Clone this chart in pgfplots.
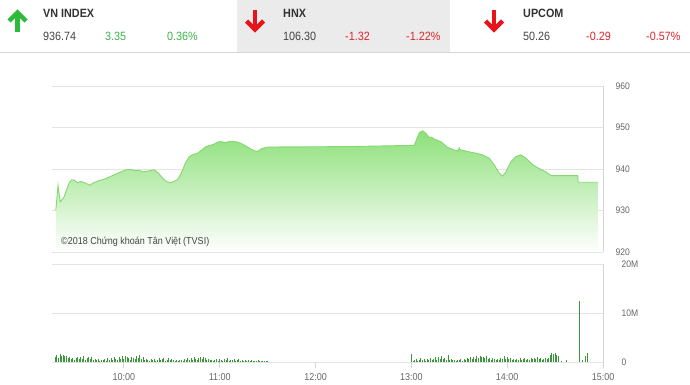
\documentclass[border=0pt]{standalone}
\usepackage{fontspec}
\setmainfont{Liberation Sans}[FakeStretch=0.9]
\usepackage{pgfplots}
\pgfplotsset{compat=1.18}
\usetikzlibrary{arrows.meta}

\definecolor{gridc}{HTML}{E4E4E4}
\definecolor{framec}{HTML}{D6D6D6}
\definecolor{areaTop}{HTML}{8DE07A}
\definecolor{lineC}{HTML}{84D870}
\definecolor{barC}{HTML}{3A983A}
\definecolor{upG}{HTML}{2DBA3A}
\definecolor{txtG}{HTML}{3BB44A}
\definecolor{dnR}{HTML}{E8141B}
\definecolor{txtR}{HTML}{E0262B}
\definecolor{hdrGray}{HTML}{EBEBEB}
\definecolor{hdrT}{HTML}{333333}
\definecolor{numT}{HTML}{444444}
\definecolor{tickT}{HTML}{666666}

\pgfplotstableread{
x y
17.4 920
17.4 930.1
18.8 936.1
20.1 932.1
21.2 932.6
22.6 933.3
24.0 934.8
25.7 936.6
27.3 937.4
28.9 937.3
31.0 936.7
33.0 937.0
35.2 936.7
37.0 936.4
38.9 936.1
40.6 936.6
42.5 936.9
45.0 937.3
47.6 937.5
50.5 938.0
53.9 938.6
57.5 939.2
61.3 939.8
64.0 939.9
67.5 939.6
69.5 939.7
71.7 939.3
75.0 939.5
79.0 939.8
82.0 938.9
84.2 937.8
86.6 937.0
89.0 936.7
91.5 937.0
93.7 937.5
95.5 938.7
96.8 939.8
98.5 941.4
100.9 943.0
103.5 943.5
106.1 943.8
108.8 944.6
111.4 945.4
114.0 945.7
116.6 946.0
118.7 946.5
120.8 946.6
123.5 946.4
127.0 946.7
131.0 946.5
134.3 946.0
137.0 945.4
139.6 944.8
141.7 944.4
143.8 944.2
145.8 944.8
147.9 945.1
150.0 945.3
200.0 945.4
241.8 945.7
244.9 948.7
247.0 949.2
249.1 948.6
251.2 947.6
252.5 947.7
254.3 947.2
258.5 946.6
262.7 945.2
266.9 944.6
269.0 944.3
270.0 945.1
270.6 944.5
271.1 944.6
275.3 944.2
280.4 943.8
284.6 943.4
288.8 942.6
291.9 941.0
295.0 939.0
297.2 938.3
299.2 939.3
302.4 941.8
305.5 943.0
308.6 943.4
311.8 942.6
316.0 941.0
319.6 940.2
324.3 939.3
327.4 938.4
344.2 938.4
344.4 936.8
356.9 936.8
356.9 920
}\indexdata

\begin{document}
\begin{tikzpicture}[x=1pt,y=1pt]
\path[use as bounding box] (0,0) rectangle (690,384);
% header
\fill[hdrGray] (237,332) rectangle (450,384);
\draw[framec, line width=0.6pt] (0,331.7) -- (690,331.7);
% arrows
\draw[upG, line width=4.5pt] (17.5,352) -- (17.5,371);
\draw[upG, line width=4.5pt, line join=miter] (9,363) -- (17.5,371.5) -- (26,363);
\draw[dnR, line width=4.5pt] (255,374) -- (255,355);
\draw[dnR, line width=4.5pt, line join=miter] (246.5,363) -- (255,354.5) -- (263.5,363);
\draw[dnR, line width=4.5pt] (494,374) -- (494,355);
\draw[dnR, line width=4.5pt, line join=miter] (485.5,363) -- (494,354.5) -- (502.5,363);
% header texts
\begin{scope}[every node/.style={anchor=west, inner sep=0pt, font=\fontsize{12}{12}\selectfont}]
\node[text=hdrT, font=\bfseries\fontsize{12}{12}\selectfont] at (43,371) {VN INDEX};
\node[text=numT] at (43,348) {936.74};
\node[text=txtG] at (105,348) {3.35};
\node[text=txtG] at (167,348) {0.36\%};
\node[text=hdrT, font=\bfseries\fontsize{12}{12}\selectfont] at (283,371) {HNX};
\node[text=numT] at (283,348) {106.30};
\node[text=txtR] at (345,348) {-1.32};
\node[text=txtR] at (406,348) {-1.22\%};
\node[text=hdrT, font=\bfseries\fontsize{12}{12}\selectfont] at (523,371) {UPCOM};
\node[text=numT] at (523,348) {50.26};
\node[text=txtR] at (586,348) {-0.29};
\node[text=txtR] at (646,348) {-0.57\%};
\end{scope}

% main index chart
\begin{axis}[at={(52pt,132pt)}, anchor=south west, scale only axis,
  width=551pt, height=166pt,
  xmin=15, xmax=360, ymin=920, ymax=960,
  axis line style={draw=none},
  xtick=\empty, ytick={920,930,...,960},
  ymajorgrids, grid style={gridc, line width=0.8pt},
  yticklabel pos=right, major tick length=0pt,
  yticklabel style={font=\fontsize{9.5}{9.5}\selectfont, text=tickT, anchor=west, xshift=9pt},
  /pgf/number format/assume math mode=true]
\addplot[draw=none, top color=areaTop, bottom color=white] table[x=x,y=y] {\indexdata};
\addplot[draw=lineC, line width=0.9pt] table[x=x,y=y, skip coords between index={0}{1}, skip coords between index={92}{93}] {\indexdata};
\end{axis}
\draw[framec, line width=0.8pt] (603,298) -- (603,132);
\node[anchor=west, inner sep=0pt, text=numT, font=\fontsize{10}{10}\selectfont] at (61,142) {©2018 Chứng khoán Tân Việt (TVSI)};

% volume chart
\begin{axis}[at={(52pt,22pt)}, anchor=south west, scale only axis,
  width=551pt, height=98pt,
  xmin=15, xmax=360, ymin=0, ymax=20,
  axis line style={draw=none},
  xtick={60,120,180,240,300,360},
  xticklabels={10:00,11:00,12:00,13:00,14:00,15:00},
  xtick pos=bottom, tick align=outside, major tick length=6pt,
  xtick style={framec, line width=0.8pt},
  ytick={0,10,20}, yticklabels={0,10M,20M},
  ytick style={draw=none},
  ymajorgrids, grid style={gridc, line width=0.8pt},
  yticklabel pos=right,
  yticklabel style={font=\fontsize{9.5}{9.5}\selectfont, text=tickT, anchor=west, xshift=9pt},
  xticklabel style={font=\fontsize{10}{10}\selectfont, text=tickT, yshift=-2pt},
  /pgf/number format/assume math mode=true]
\addplot[ycomb, barC, line width=0.9pt] coordinates {
(17,1.0) (18,1.5) (19,0.9) (20,1.6) (21,1.3) (22,1.4) (23,1.2) (24,1.3) (25,0.9) (26,1.1)
(27,0.6) (28,0.8) (29,0.5) (30,0.9) (31,1.0) (32,0.6) (33,1.1) (34,0.7) (35,1.2) (36,0.5)
(37,0.9) (38,1.0) (39,0.6) (40,1.1) (41,0.4) (42,0.7) (43,0.5) (44,0.6) (45,0.3) (46,0.5)
(47,0.4) (48,0.6) (49,0.3) (50,0.8) (51,0.5) (52,0.9) (53,0.4) (54,1.0) (55,0.6) (56,0.5)
(57,1.1) (58,0.7) (59,1.2) (60,0.6) (61,1.3) (62,1.0) (63,0.8) (64,0.5) (65,1.1) (66,0.9)
(67,0.7) (68,1.2) (69,0.8) (70,1.4) (71,0.6) (72,1.0) (73,0.4) (74,0.6) (75,0.5) (76,0.3)
(77,0.6) (78,0.4) (79,0.7) (80,0.3) (81,0.5) (82,0.9) (83,0.4) (84,0.6) (85,0.8) (86,0.3)
(87,0.5) (88,0.9) (89,0.4) (90,0.7) (91,0.5) (92,0.3) (93,0.4) (94,0.3) (95,0.5) (96,0.4)
(97,0.3) (98,0.6) (99,0.4) (100,0.8) (101,0.5) (102,0.9) (103,0.4) (104,1.0) (105,0.7) (106,0.5)
(107,0.9) (108,1.1) (109,0.6) (110,1.0) (111,0.8) (112,0.5) (113,0.6) (114,0.4) (115,0.5) (116,0.3)
(117,0.4) (118,0.6) (119,0.3) (120,0.7) (121,0.5) (122,0.3) (123,0.6) (124,0.4) (125,0.8) (126,0.3)
(127,0.5) (128,0.4) (129,0.6) (130,0.3) (131,0.4) (132,0.6) (133,0.3) (134,0.5) (135,0.3) (136,0.4)
(137,0.3) (138,0.5) (139,0.2) (140,0.4) (141,0.3) (142,0.2) (143,0.3) (144,0.4) (145,0.2) (146,0.3)
(147,0.2) (148,0.3) (149,0.2) (150,0.3)
(240,1.6) (241,0.3) (242,0.4) (243,0.6) (244,0.3) (245,0.5) (246,0.8) (247,0.4) (248,0.6) (249,0.3)
(250,0.7) (251,0.5) (252,0.9) (253,0.4) (254,0.6) (255,1.0) (256,0.5) (257,1.1) (258,0.7) (259,1.2)
(260,0.6) (261,0.9) (262,0.4) (263,1.5) (264,0.5) (265,0.6) (266,0.4) (267,0.5) (268,0.3) (269,0.5)
(270,0.4) (271,0.6) (272,0.3) (273,0.7) (274,0.5) (275,0.8) (276,0.6) (277,1.0) (278,0.7) (279,1.1)
(280,0.6) (281,1.2) (282,0.9) (283,1.3) (284,1.0) (285,1.1) (286,0.8) (287,1.2) (288,0.7) (289,0.9)
(290,0.5) (291,0.8) (292,0.6) (293,0.4) (294,0.7) (295,0.5) (296,0.9) (297,0.6) (298,1.3) (299,0.7)
(300,1.0) (301,0.6) (302,0.8) (303,0.5) (304,0.7) (305,0.4) (306,0.6) (307,0.5) (308,0.8) (309,0.4)
(310,0.6) (311,0.9) (312,0.5) (313,0.7) (314,0.4) (315,0.8) (316,0.6) (317,0.9) (318,0.7) (319,1.0)
(320,0.6) (321,0.8) (322,0.5) (323,0.7) (324,0.9) (325,0.6) (326,0.8) (327,1.4) (328,1.8) (329,1.6)
(330,1.9) (331,1.5) (332,1.2)
(334,0.3) (337,0.4) (345,12.5) (347,0.4) (349,1.2) (350,1.8)
};
\end{axis}
\draw[framec, line width=0.8pt] (603,120) -- (603,22);
\end{tikzpicture}
\end{document}
